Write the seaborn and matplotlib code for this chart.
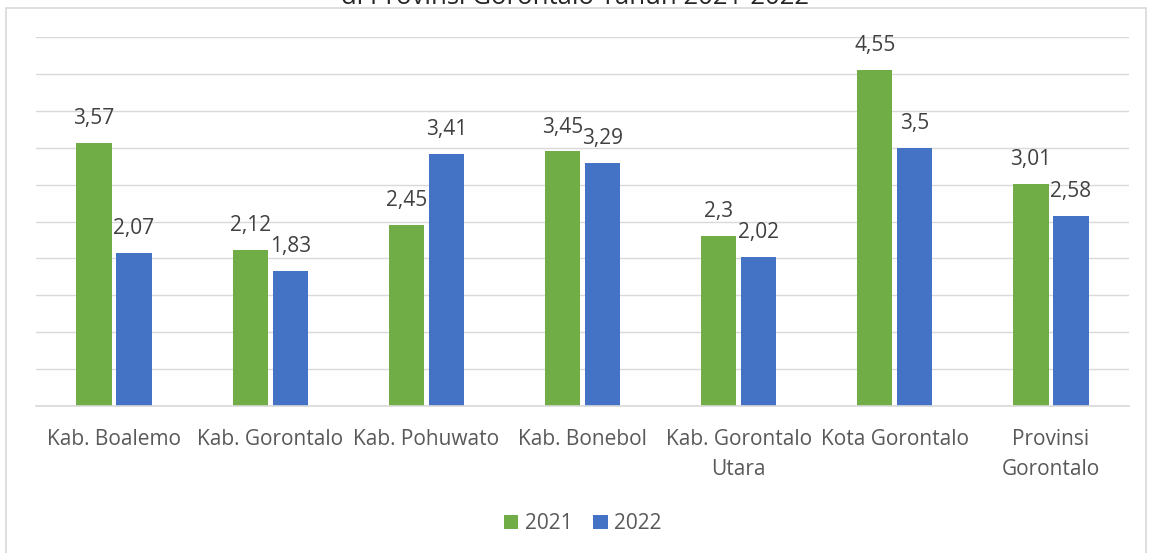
import pandas as pd
import matplotlib.pyplot as plt
import seaborn as sns
from matplotlib.patches import Rectangle

# Data
regions = ['Kab. Boalemo', 'Kab. Gorontalo', 'Kab. Pohuwato', 'Kab. Bonebol',
           'Kab. Gorontalo\nUtara', 'Kota Gorontalo', 'Provinsi\nGorontalo']
values_2021 = [3.57, 2.12, 2.45, 3.45, 2.30, 4.55, 3.01]
values_2022 = [2.07, 1.83, 3.41, 3.29, 2.02, 3.50, 2.58]
years = ['2021', '2022']
colors = ['#70AD47', '#4472C4']

df = pd.DataFrame({
    'Wilayah': regions * 2,
    'Tahun': [years[0]] * len(regions) + [years[1]] * len(regions),
    'Nilai': values_2021 + values_2022,
})

sns.set_style('white')
plt.rcParams['font.family'] = ['Open Sans', 'DejaVu Sans']

fig = plt.figure(figsize=(11.51, 5.53), dpi=100)
ax = fig.add_axes([36 / 1151, 0.2658, 1093 / 1151, 0.6673])

sns.barplot(data=df, x='Wilayah', y='Nilai', hue='Tahun', palette=colors,
            saturation=1, width=0.512, gap=0.12, linewidth=0, ax=ax, legend=True)

ax.set_ylim(0, 5)
ax.set_xlim(-0.5, len(regions) - 0.5)
ax.set_yticks([i * 0.5 for i in range(11)])
ax.yaxis.grid(True, color='#D9D9D9', linewidth=1)
ax.set_axisbelow(True)
ax.tick_params(axis='y', left=False, labelleft=False)
ax.tick_params(axis='x', bottom=False, labelsize=15, labelcolor='#595959', pad=13)
for lbl in ax.get_xticklabels():
    lbl.set_linespacing(1.55)
ax.set_xlabel('')
ax.set_ylabel('')
for side in ['top', 'right', 'left']:
    ax.spines[side].set_visible(False)
ax.spines['bottom'].set_color('#D9D9D9')
ax.spines['bottom'].set_linewidth(1.2)

# data labels with comma decimal separator
for container in ax.containers:
    labels = [f'{b.get_height():g}'.replace('.', ',') for b in container]
    ax.bar_label(container, labels=labels, padding=10, fontsize=15, color='#404040')

ax.legend(loc='upper center', bbox_to_anchor=(0.5, -0.24), ncol=2, frameon=False,
          fontsize=15, labelcolor='#595959', handlelength=0.7, handleheight=0.7,
          handletextpad=0.3, columnspacing=1.0)

# outer chart border
fig.patches.append(Rectangle((6 / 1151, -0.01), 1140 / 1151, 1 - 8 / 553 + 0.01,
                             transform=fig.transFigure, fill=False,
                             edgecolor='#D9D9D9', linewidth=1.2))

# title, cut off at the top in the original
fig.text(575 / 1151, 1 - 4 / 553, 'di Provinsi Gorontalo Tahun 2021-2022', ha='center',
         va='baseline', fontsize=18.5, color='#262626')

fig.savefig('out.png', dpi=100)
